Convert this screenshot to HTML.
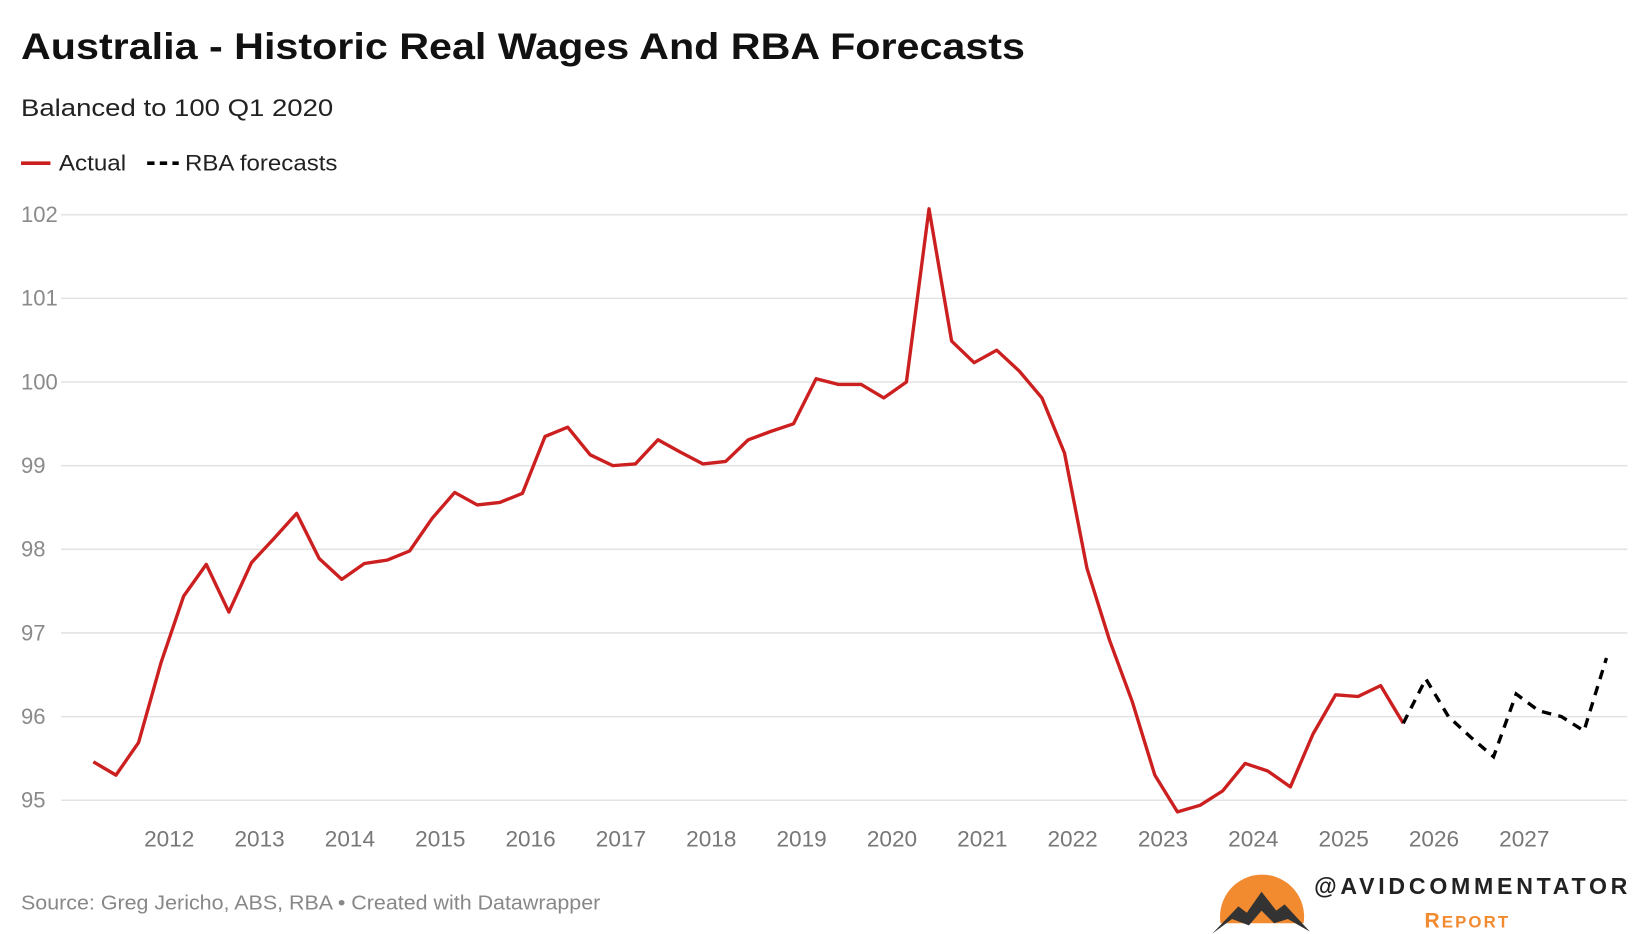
<!DOCTYPE html>
<html><head><meta charset="utf-8"><style>
html,body{margin:0;padding:0;background:#fff;}
svg{display:block;font-family:"Liberation Sans",Arial,sans-serif;}
</style></head><body>
<svg id="chart" width="1640" height="934" viewBox="0 0 1560 888" xmlns="http://www.w3.org/2000/svg">
<rect width="1560" height="888" fill="#fff"/>
<text x="20" y="56" font-size="35" font-weight="bold" fill="#111" textLength="955" lengthAdjust="spacingAndGlyphs">Australia - Historic Real Wages And RBA Forecasts</text>
<text x="20" y="110" font-size="23" fill="#222" textLength="297" lengthAdjust="spacingAndGlyphs">Balanced to 100 Q1 2020</text>
<g>
<g>
<line x1="20" y1="155" x2="48" y2="155" stroke="#cc1f1f" stroke-width="3.5"/>
<text x="56" y="162" font-size="21" fill="#222" textLength="64" lengthAdjust="spacingAndGlyphs">Actual</text></g>
<g>
<line x1="140" y1="155" x2="170" y2="155" stroke="#000" stroke-width="3.5" stroke-dasharray="7,5"/>
<text x="176" y="162" font-size="21" fill="#222" textLength="145" lengthAdjust="spacingAndGlyphs">RBA forecasts</text></g>
</g>
<g id="grid"></g><g id="yaxis"></g><g id="xaxis"></g><g id="series"></g>
<text x="20" y="865" font-size="19" fill="#888" textLength="551" lengthAdjust="spacingAndGlyphs">Source: Greg Jericho, ABS, RBA • Created with Datawrapper</text>
<g>
<path d="M1161,878 A40,40 0 1 1 1240,878 Z" fill="#f28a30"/>
<path d="M1153,888 L1178,862 L1186,868 L1200,848 L1214,866 L1222,860 L1246,886 L1225,874 L1212,878 L1200,866 L1188,880 L1172,874 Z" fill="#333"/>
<text x="1250" y="850" font-size="22" font-weight="bold" fill="#222" textLength="298" lengthAdjust="spacing">@AVIDCOMMENTATOR</text>
<text x="1355" y="882" font-size="20" font-weight="bold" fill="#f28a30" letter-spacing="2">R<tspan font-size="16">EPORT</tspan></text>
</g>
</svg>
<script>
const yTicks = [95, 96, 97, 98, 99, 100, 101, 102];
const xTickLabels = ["2012","2013","2014","2015","2016","2017","2018","2019","2020","2021","2022","2023","2024","2025","2026","2027"];
const actualStart = 2011.16;
const actualValues = [95.46,95.30,95.69,96.65,97.44,97.82,97.25,97.84,98.13,98.43,97.89,97.64,97.83,97.87,97.98,98.37,98.68,98.53,98.56,98.67,99.35,99.46,99.13,99.00,99.02,99.31,99.16,99.02,99.05,99.31,99.41,99.50,100.04,99.97,99.97,99.81,100.00,102.07,100.49,100.23,100.38,100.13,99.81,99.15,97.77,96.91,96.18,95.30,94.86,94.94,95.11,95.44,95.35,95.16,95.79,96.26,96.24,96.37,95.92];
const forecastValues = [95.92,96.45,96.00,95.75,95.52,96.27,96.07,96.00,95.83,96.70];

const NS="http://www.w3.org/2000/svg";
const X0=161, PX_PER_YEAR=85.93, Y0=761, PX_PER_UNIT=79.57;
function xScale(t){return X0+(t-2012)*PX_PER_YEAR;}
function yScale(v){return Y0-(v-95)*PX_PER_UNIT;}
function mk(tag,attrs,parent){const e=document.createElementNS(NS,tag);for(const k in attrs)e.setAttribute(k,attrs[k]);parent.appendChild(e);return e;}
const grid=document.getElementById('grid'),yaxis=document.getElementById('yaxis'),xaxis=document.getElementById('xaxis'),series=document.getElementById('series');
yTicks.forEach(v=>{
  const l=mk('line',{x1:58,x2:1548,y1:yScale(v),y2:yScale(v),stroke:'#e3e3e3','stroke-width':1.5},grid);
  
  
  const t=mk('text',{x:20,y:yScale(v)+7,'font-size':21,fill:'#8a8a8a'},yaxis);
  t.textContent=v;
  
  
});
xTickLabels.forEach(lab=>{
  const t=mk('text',{x:xScale(+lab),y:805,'font-size':21.5,fill:'#777','text-anchor':'middle'},xaxis);
  t.textContent=lab;
  
  
});
const aPts=actualValues.map((v,i)=>xScale(actualStart+i*0.25).toFixed(1)+','+yScale(v).toFixed(1)).join(' ');
const a=mk('polyline',{points:aPts,fill:'none',stroke:'#cc1f1f','stroke-width':3.2,'stroke-linejoin':'round'},series);


const fStart=actualStart+(actualValues.length-1)*0.25;
const fPts=forecastValues.map((v,i)=>xScale(fStart+i*0.25).toFixed(1)+','+yScale(v).toFixed(1)).join(' ');
const f=mk('polyline',{points:fPts,fill:'none',stroke:'#000','stroke-width':3.2,'stroke-dasharray':'9,7'},series);


</script>
</body></html>
